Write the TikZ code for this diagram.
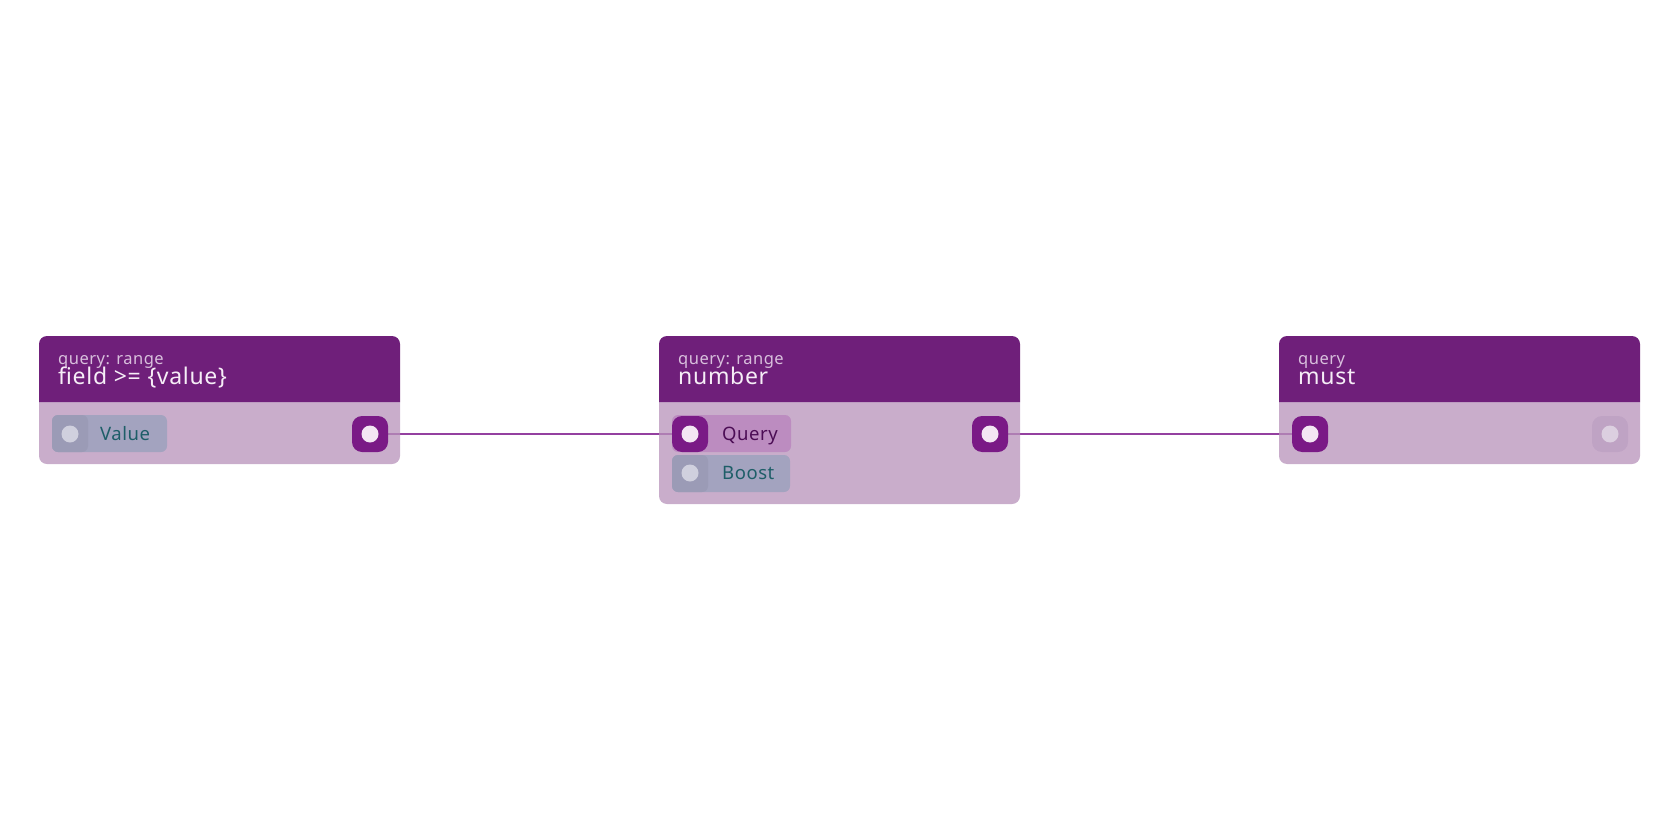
\documentclass[tikz,border=0pt]{standalone}
\usepackage{fontspec}
\setmainfont{Noto Sans}[LetterSpace=3]
\usetikzlibrary{positioning}
\pgfdeclarelayer{background}
\pgfsetlayers{background,main}
% colours
\definecolor{headcol}{HTML}{6F1F7A}
\definecolor{bodycol}{HTML}{B792BA}
\definecolor{portcol}{HTML}{7A1A86}
\definecolor{portdot}{HTML}{F3E6F3}
\definecolor{pillcol}{HTML}{A3A3BF}
\definecolor{handlecol}{HTML}{9B9BB6}
\definecolor{pilldot}{HTML}{D0D0DE}
\definecolor{pilltext}{HTML}{1E5E68}
\definecolor{querycol}{HTML}{BC8CC0}
\definecolor{querytext}{HTML}{4C0D55}
\definecolor{fadecol}{HTML}{BFA3C4}
\definecolor{fadedot}{HTML}{DCCFE0}
\definecolor{linkcol}{HTML}{9440A0}
\definecolor{subcol}{HTML}{D8BFDC}
\definecolor{titlecol}{HTML}{F6EEF7}
\tikzset{
	port/.style={fill=portcol,rounded corners=10pt,minimum size=36pt,inner sep=0pt},
	fadeport/.style={port,fill=fadecol},
	dot/.style={circle,fill=portdot,minimum size=17pt,inner sep=0pt},
	pilldot/.style={circle,fill=pilldot,minimum size=17pt,inner sep=0pt},
	subtitle/.style={anchor=base west,inner sep=0pt,text=subcol,font=\fontsize{16.5pt}{16.5pt}\selectfont},
	title/.style={anchor=base west,inner sep=0pt,text=titlecol,font=\fontsize{23pt}{23pt}\selectfont},
	label/.style={anchor=base west,inner sep=0pt,font=\fontsize{18.5pt}{18.5pt}\selectfont},
	link/.style={linkcol,line width=2pt}
}
\begin{document}
\begin{tikzpicture}[x=1pt,y=-1pt]
	\useasboundingbox (0,0) rectangle (1680,840);
	%%%%%%%%%%%%%%%%%%%
	%   range field   %
	%%%%%%%%%%%%%%%%%%%
		\def\startAtX{39}
		% body
			\fill[bodycol,fill opacity=0.75] (\startAtX,402) [rounded corners=8] -- (\startAtX,464) -- (\startAtX+361,464) [sharp corners] -- (\startAtX+361,402) -- cycle;
			\fill[headcol] (\startAtX,402) [rounded corners=8] -- (\startAtX,336) -- (\startAtX+361,336) [sharp corners] -- (\startAtX+361,402) -- cycle;
			\node[subtitle] (fieldSub) at (\startAtX+19,364) {query: range};
			\node[title] (fieldTitle) at (\startAtX+19,384) {field >= \{value\}};
		% input: value
			\fill[pillcol,rounded corners=6] (52,415) rectangle (167,452);
			\fill[handlecol,rounded corners=6] (52,415) rectangle (88,452);
			\node[pilldot] (valueIn) at (70,434) {};
			\node[label,text=pilltext] (valueLabel) at (100,440) {Value};
		% output
			\node[port] (fieldOut) at (370,434) {};
			\node[dot] at (fieldOut) {};
	%%%%%%%%%%%%%%%%%%%
	%   range number  %
	%%%%%%%%%%%%%%%%%%%
		\def\startAtX{659}
		% body
			\fill[bodycol,fill opacity=0.75] (\startAtX,402) [rounded corners=8] -- (\startAtX,504) -- (\startAtX+361,504) [sharp corners] -- (\startAtX+361,402) -- cycle;
			\fill[headcol] (\startAtX,402) [rounded corners=8] -- (\startAtX,336) -- (\startAtX+361,336) [sharp corners] -- (\startAtX+361,402) -- cycle;
			\node[subtitle] (numberSub) at (\startAtX+19,364) {query: range};
			\node[title] (numberTitle) at (\startAtX+19,384) {number};
		% input: query
			\fill[querycol,rounded corners=6] (672,415) rectangle (791,452);
			\node[port] (queryIn) at (690,434) {};
			\node[dot] at (queryIn) {};
			\node[label,text=querytext] (queryLabel) at (722,440) {Query};
		% input: boost
			\fill[pillcol,rounded corners=6] (672,455) rectangle (790,492);
			\fill[handlecol,rounded corners=6] (672,455) rectangle (708,492);
			\node[pilldot] (boostIn) at (690,473) {};
			\node[label,text=pilltext] (boostLabel) at (722,479) {Boost};
		% output
			\node[port] (numberOut) at (990,434) {};
			\node[dot] at (numberOut) {};
	%%%%%%%%%%%%%%%%%%%
	%   query must    %
	%%%%%%%%%%%%%%%%%%%
		\def\startAtX{1279}
		% body
			\fill[bodycol,fill opacity=0.75] (\startAtX,402) [rounded corners=8] -- (\startAtX,464) -- (\startAtX+361,464) [sharp corners] -- (\startAtX+361,402) -- cycle;
			\fill[headcol] (\startAtX,402) [rounded corners=8] -- (\startAtX,336) -- (\startAtX+361,336) [sharp corners] -- (\startAtX+361,402) -- cycle;
			\node[subtitle] (mustSub) at (\startAtX+19,364) {query};
			\node[title] (mustTitle) at (\startAtX+19,384) {must};
		% input
			\node[port] (mustIn) at (1310,434) {};
			\node[dot] at (mustIn) {};
		% output (unused)
			\node[fadeport] (mustOut) at (1610,434) {};
			\node[pilldot,fill=fadedot] at (mustOut) {};
	%%%%%%%%%%%%%%%%%%%
	%      links      %
	%%%%%%%%%%%%%%%%%%%
		\begin{pgfonlayer}{background}
			\draw[link] (fieldOut.east) -- (queryIn.west);
			\draw[link] (numberOut.east) -- (mustIn.west);
		\end{pgfonlayer}
\end{tikzpicture}
\end{document}
